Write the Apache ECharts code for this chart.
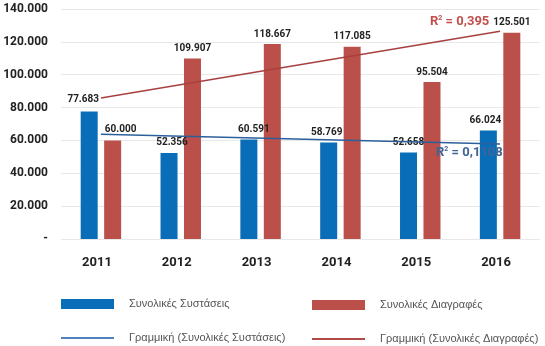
<!DOCTYPE html>
<html>
<head>
<meta charset="utf-8">
<script src="https://cdn.jsdelivr.net/npm/echarts@6/dist/echarts.min.js"></script>
<style>html,body{margin:0;padding:0;background:#fff}#c{width:545px;height:346px}</style>
</head>
<body>
<div id="c"></div>
<script>
const categories = ['2011', '2012', '2013', '2014', '2015', '2016'];
const systaseis = [77683, 52356, 60591, 58769, 52658, 66024];
const diagrafes = [60000, 109907, 118667, 117085, 95504, 125501];
// trend line end values (first and last category)
const trendSystaseis = [63800, null, null, null, null, 57800];
const trendDiagrafes = [85800, null, null, null, null, 126500];
const yTicks = [0, 20000, 40000, 60000, 80000, 100000, 120000, 140000];
const seriesNames = ['Συνολικές Συστάσεις', 'Συνολικές Διαγραφές', 'Γραμμική (Συνολικές Συστάσεις)', 'Γραμμική (Συνολικές Διαγραφές)'];
const r2Blue = '0,1108';
const r2Red = '0,395';

const fmt = v => v === 0 ? '-' : String(v).replace(/\B(?=(\d{3})+(?!\d))/g, '.');
const BLUE = '#0a6db8', RED = '#bb4f49';
const blueOffsets = [[-6, -2], [3, 0], [5, 0], [-2, 0], [0, 0], [-3, 0]];
const redOffsets = [[8, -1], [0, 0], [0, 0], [0, 0], [0, 0], [0, 0]];
const lblStyle = {show: true, position: 'top', distance: 5, fontFamily: 'Roboto', fontWeight: 'bold', fontSize: 10, color: '#222', formatter: p => fmt(p.value)};

const chart = echarts.init(document.getElementById('c'), null, {renderer: 'canvas'});
const legendText = {fontFamily: 'Liberation Sans', fontSize: 11, color: '#555', padding: [0, 0, 0, 10]};
const lg = {padding: 0, itemWidth: 53, textStyle: legendText};
chart.setOption({
  animation: false,
  grid: {left: 61, right: 5, top: 9, bottom: 107},
  xAxis: {
    type: 'category', data: categories,
    axisLine: {show: false}, axisTick: {show: false},
    axisLabel: {margin: 17, fontFamily: 'Roboto', fontWeight: 'bold', fontSize: 13, color: '#222', padding: [0, 8, 0, 0]}
  },
  yAxis: {
    type: 'value', min: yTicks[0], max: yTicks[yTicks.length - 1], interval: yTicks[1] - yTicks[0],
    axisLine: {show: false}, axisTick: {show: false},
    splitLine: {lineStyle: {color: '#e8e8e8', width: 1}},
    axisLabel: {margin: 13, fontFamily: 'Roboto', fontWeight: 'bold', fontSize: 12, color: '#222', formatter: fmt}
  },
  legend: [
    Object.assign({data: [{name: seriesNames[0], icon: 'rect'}], left: 61, top: 298.5, itemHeight: 10}, lg),
    Object.assign({data: [{name: seriesNames[1], icon: 'rect'}], left: 312, top: 299.5, itemHeight: 10}, lg),
    Object.assign({data: [{name: seriesNames[2], icon: 'rect', itemStyle: {color: '#4f81bd'}}], left: 61, top: 332.5, itemHeight: 2}, lg),
    Object.assign({data: [{name: seriesNames[3], icon: 'rect', itemStyle: {color: '#b04a48'}}], left: 312, top: 333.5, itemHeight: 2}, lg)
  ],
  series: [
    {name: seriesNames[0], type: 'bar', barWidth: 17, barGap: '38%', itemStyle: {color: BLUE},
     data: systaseis.map((v, i) => ({value: v, label: {offset: blueOffsets[i]}})), label: lblStyle},
    {name: seriesNames[1], type: 'bar', barWidth: 17, barGap: '38%', itemStyle: {color: RED},
     data: diagrafes.map((v, i) => ({value: v, label: {offset: redOffsets[i]}})), label: lblStyle},
    {name: seriesNames[2], type: 'line', data: trendSystaseis, connectNulls: true, symbol: 'none',
     itemStyle: {color: '#2d5f9c'}, lineStyle: {color: '#2d5f9c', width: 1.5}},
    {name: seriesNames[3], type: 'line', data: trendDiagrafes, connectNulls: true, symbol: 'none',
     itemStyle: {color: '#a8403d'}, lineStyle: {color: '#a8403d', width: 1.5}}
  ],
  graphic: [
    {type: 'text', left: 430, top: 15, z: 100, style: {
      text: '{r|R}{s|2}{r| = ' + r2Red + '}',
      rich: {r: {fontFamily: 'Roboto', fontWeight: 'bold', fontSize: 13, fill: '#c0504d'},
             s: {fontFamily: 'Roboto', fontWeight: 'bold', fontSize: 7, fill: '#c0504d', verticalAlign: 'top', padding: [0, 0, 6, 0]}}}},
    {type: 'text', left: 436, top: 146, z: 100, style: {
      text: '{r|R}{s|2}{r| = ' + r2Blue + '}',
      rich: {r: {fontFamily: 'Roboto', fontWeight: 'bold', fontSize: 13, fill: '#3f6596'},
             s: {fontFamily: 'Roboto', fontWeight: 'bold', fontSize: 7, fill: '#3f6596', verticalAlign: 'top', padding: [0, 0, 6, 0]}}}}
  ]
});
</script>
</body>
</html>
